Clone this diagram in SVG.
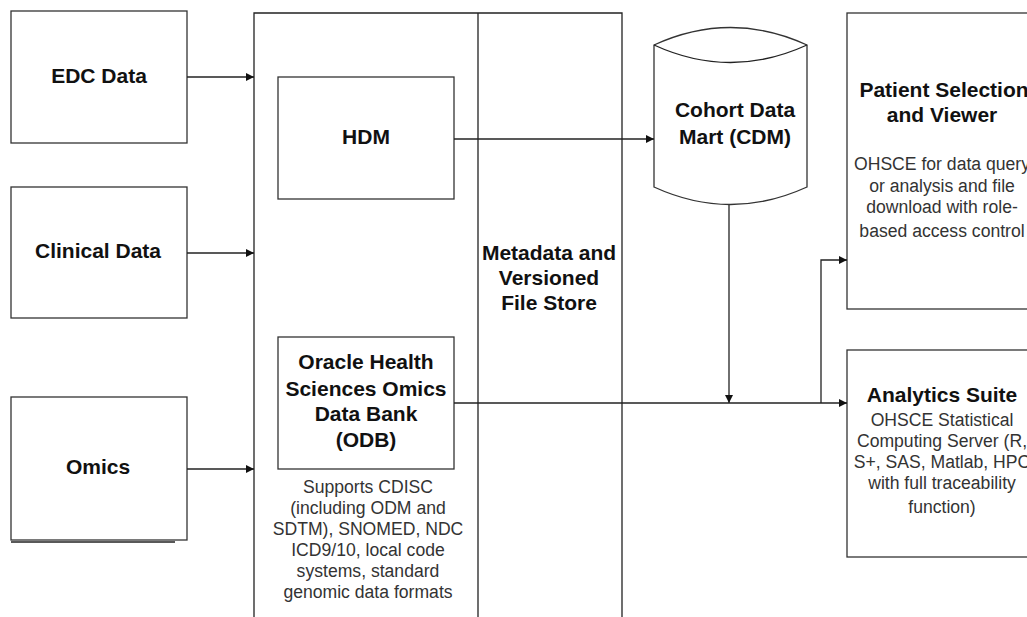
<svg xmlns="http://www.w3.org/2000/svg" width="1027" height="617" viewBox="0 0 1027 617">
<style>
.box{fill:#fff;stroke:#333;stroke-width:1.3}
.ln{fill:none;stroke:#222;stroke-width:1.3}
.t{font-family:"Liberation Sans",Arial,sans-serif;font-weight:bold;font-size:21px;fill:#111;text-anchor:middle}
.s{font-family:"Liberation Sans",Arial,sans-serif;font-size:17.6px;fill:#333;text-anchor:middle}
</style>
<defs>
<marker id="ah" viewBox="0 0 10 10" refX="10" refY="5" markerWidth="8" markerHeight="8" markerUnits="userSpaceOnUse" orient="auto">
<path d="M0,0 L10,5 L0,10 z" fill="#111"/>
</marker>
</defs>
<rect width="1027" height="617" fill="#fff"/>
<g id="platform">
<path class="ln" d="M254,620 V13 H622 V620 M478,13 V620"/>
<text class="t"><tspan x="549" y="260">Metadata and</tspan><tspan x="549" y="285">Versioned</tspan><tspan x="549" y="310">File Store</tspan></text>
</g>
<g id="edc">
<rect class="box" x="11" y="11" width="176" height="132"/>
<text class="t" x="99" y="83">EDC Data</text>
</g>
<g id="clinical">
<rect class="box" x="11" y="187" width="176" height="131"/>
<text class="t" x="98" y="258">Clinical Data</text>
</g>
<g id="omics">
<rect class="box" x="11" y="397" width="176" height="143"/>
<line x1="11" y1="542" x2="175" y2="542" stroke="#222" stroke-width="1.5"/>
<text class="t" x="98" y="474">Omics</text>
</g>
<g id="hdm">
<rect class="box" x="278" y="77" width="176" height="122"/>
<text class="t" x="366" y="144">HDM</text>
</g>
<g id="odb">
<rect class="box" x="278" y="337" width="176" height="132"/>
<text class="t"><tspan x="366" y="369">Oracle Health</tspan><tspan x="366" y="396">Sciences Omics</tspan><tspan x="366" y="421">Data Bank</tspan><tspan x="366" y="447">(ODB)</tspan></text>
<text class="s"><tspan x="368" y="493">Supports CDISC</tspan><tspan x="368" y="514">(including ODM and</tspan><tspan x="368" y="535">SDTM), SNOMED, NDC</tspan><tspan x="368" y="556">ICD9/10, local code</tspan><tspan x="368" y="577">systems, standard</tspan><tspan x="368" y="598">genomic data formats</tspan></text>
</g>
<g id="cdm">
<path class="box" d="M654,45 Q730.5,10 807,45 V187 Q730.5,222 654,187 Z"/>
<path class="ln" d="M654,45 Q730.5,80 807,45"/>
<text class="t"><tspan x="735" y="117">Cohort Data</tspan><tspan x="735" y="144">Mart (CDM)</tspan></text>
</g>
<g id="patient">
<rect class="box" x="847" y="13" width="200" height="296"/>
<text class="t"><tspan x="944" y="97">Patient Selection</tspan><tspan x="942" y="122">and Viewer</tspan></text>
<text class="s"><tspan x="942" y="170">OHSCE for data query</tspan><tspan x="942" y="192">or analysis and file</tspan><tspan x="942" y="213">download with role-</tspan><tspan x="942" y="237">based access control</tspan></text>
</g>
<g id="analytics">
<rect class="box" x="847" y="350" width="200" height="207"/>
<text class="t" x="942" y="402">Analytics Suite</text>
<text class="s"><tspan x="942" y="426">OHSCE Statistical</tspan><tspan x="942" y="447">Computing Server (R,</tspan><tspan x="942" y="468">S+, SAS, Matlab, HPC</tspan><tspan x="942" y="489">with full traceability</tspan><tspan x="942" y="513">function)</tspan></text>
</g>
<g id="connectors">
<line class="ln" x1="187" y1="77" x2="254" y2="77" marker-end="url(#ah)"/>
<line class="ln" x1="187" y1="253" x2="254" y2="253" marker-end="url(#ah)"/>
<line class="ln" x1="187" y1="469" x2="254" y2="469" marker-end="url(#ah)"/>
<line class="ln" x1="454" y1="139" x2="654" y2="139" marker-end="url(#ah)"/>
<line class="ln" x1="729" y1="205" x2="729" y2="403" marker-end="url(#ah)"/>
<line class="ln" x1="454" y1="403" x2="847" y2="403" marker-end="url(#ah)"/>
<path class="ln" d="M821,403 V260 H847" marker-end="url(#ah)"/>
</g>
</svg>
